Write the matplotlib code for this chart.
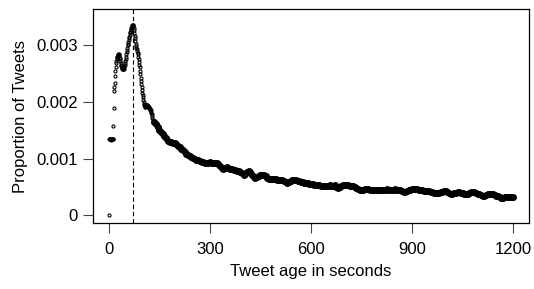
import numpy as np
import matplotlib
matplotlib.use("Agg")
import matplotlib.pyplot as plt

plt.rcParams["font.family"] = ["Liberation Sans", "DejaVu Sans"]

# ---- data (seconds, proportion) ----
# first ~130 s, one value per second
head_age = list(range(0, 131))
head_prop = [
    0.0,
    0.00134, 0.00134, 0.00135, 0.00134, 0.00135, 0.00134, 0.00133, 0.00134, 0.00135, 0.00134,
    0.00135, 0.00134, 0.00158, 0.00189, 0.00220, 0.00227, 0.00233, 0.00245, 0.00255, 0.00262,
    0.00268, 0.00272, 0.00276, 0.00279, 0.00279, 0.00281, 0.00283, 0.00284, 0.00284, 0.00283,
    0.00281, 0.00278, 0.00275, 0.00272, 0.00269, 0.00266, 0.00264, 0.00262, 0.00260, 0.00259,
    0.00258, 0.00258, 0.00258, 0.00259, 0.00261, 0.00263, 0.00266, 0.00269, 0.00272, 0.00276,
    0.00280, 0.00284, 0.00288, 0.00292, 0.00296, 0.00300, 0.00303, 0.00306, 0.00309, 0.00312,
    0.00315, 0.00318, 0.00321, 0.00324, 0.00327, 0.00329, 0.00331, 0.00333, 0.00334, 0.00335,
    0.00336, 0.00336, 0.00334, 0.00331, 0.00327, 0.00322, 0.00317, 0.00312, 0.00307, 0.00303,
    0.00299, 0.00296, 0.00293, 0.00290, 0.00287, 0.00284, 0.00280, 0.00276, 0.00271, 0.00266,
    0.00261, 0.00255, 0.00249, 0.00243, 0.00237, 0.00231, 0.00226, 0.00221, 0.00216, 0.00212,
    0.00208, 0.00204, 0.00200, 0.00197, 0.00195, 0.00193, 0.00192, 0.00192, 0.00193, 0.00194,
    0.00195, 0.00195, 0.00195, 0.00194, 0.00193, 0.00193, 0.00192, 0.00191, 0.00190, 0.00189,
    0.00188, 0.00187, 0.00186, 0.00185, 0.00183, 0.00181, 0.00178, 0.00175, 0.00172, 0.00169,
]

# rest of the curve, read every 5 s
tail_age = list(range(135, 1201, 5))
tail_prop = [
    0.00165, 0.00161, 0.00156, 0.00151, 0.00147, 0.00144, 0.00140, 0.00136, 0.00132, 0.00130,
    0.00129, 0.00128, 0.00127, 0.00126, 0.00123, 0.00120, 0.00117, 0.00115, 0.00112, 0.00109,
    0.00107, 0.00105, 0.00103, 0.00101, 0.00100, 0.00098, 0.00097, 0.00096, 0.00095, 0.00094,
    0.00093, 0.00092, 0.00093, 0.00094, 0.00093, 0.00092, 0.00093, 0.00092, 0.00090, 0.00087,
    0.00084, 0.00082, 0.00083, 0.00085, 0.00084, 0.00082, 0.00081, 0.00080, 0.00080, 0.00079,
    0.00078, 0.00076, 0.00074, 0.00072, 0.00073, 0.00076, 0.00078, 0.00076, 0.00072, 0.00067,
    0.00066, 0.00067, 0.00069, 0.00071, 0.00072, 0.00071, 0.00069, 0.00066, 0.00065, 0.00064,
    0.00064, 0.00064, 0.00064, 0.00063, 0.00063, 0.00063, 0.00062, 0.00060, 0.00058, 0.00057,
    0.00058, 0.00060, 0.00062, 0.00062, 0.00062, 0.00061, 0.00060, 0.00059, 0.00058, 0.00057,
    0.00057, 0.00057, 0.00056, 0.00055, 0.00055, 0.00054, 0.00054, 0.00053, 0.00053, 0.00052,
    0.00052, 0.00051, 0.00051, 0.00052, 0.00053, 0.00052, 0.00051, 0.00053, 0.00050, 0.00048,
    0.00050, 0.00052, 0.00053, 0.00053, 0.00053, 0.00053, 0.00052, 0.00051, 0.00051, 0.00050,
    0.00048, 0.00046, 0.00044, 0.00044, 0.00045, 0.00046, 0.00047, 0.00046, 0.00045, 0.00044,
    0.00044, 0.00044, 0.00045, 0.00045, 0.00045, 0.00044, 0.00045, 0.00045, 0.00046, 0.00045,
    0.00044, 0.00045, 0.00045, 0.00046, 0.00045, 0.00044, 0.00044, 0.00043, 0.00042, 0.00042,
    0.00043, 0.00044, 0.00045, 0.00046, 0.00047, 0.00047, 0.00046, 0.00045, 0.00045, 0.00044,
    0.00043, 0.00043, 0.00043, 0.00043, 0.00042, 0.00041, 0.00040, 0.00039, 0.00039, 0.00040,
    0.00041, 0.00042, 0.00043, 0.00043, 0.00041, 0.00039, 0.00038, 0.00038, 0.00039, 0.00040,
    0.00041, 0.00041, 0.00040, 0.00039, 0.00037, 0.00037, 0.00038, 0.00040, 0.00041, 0.00041,
    0.00041, 0.00040, 0.00038, 0.00037, 0.00036, 0.00035, 0.00035, 0.00036, 0.00037, 0.00038,
    0.00038, 0.00037, 0.00036, 0.00035, 0.00034, 0.00032, 0.00031, 0.00031, 0.00032, 0.00033,
    0.00033, 0.00033, 0.00032, 0.00032,
]

peak_age = 73
x_ticks = [0, 300, 600, 900, 1200]
y_ticks = [0, 0.001, 0.002, 0.003]
y_tick_labels = ["0", "0.001", "0.002", "0.003"]

# ---- figure ----
fig = plt.figure(figsize=(5.34, 2.89), dpi=100)
ax = fig.add_axes([0.1736, 0.2273, 0.8176, 0.7416])

# per-second part: single open circles
ax.plot(head_age, head_prop, linestyle="none", marker="o", mfc="none",
        mec="black", ms=2.2, mew=0.8)
# sparser tail: heavier circles so the chain reads as the dense band
ax.plot(tail_age, tail_prop, linestyle="none", marker="o", mfc="none",
        mec="black", ms=3.4, mew=1.6)

ax.axvline(peak_age, color="black", linestyle=(0, (4, 2.5)), linewidth=0.8)

ax.set_xlim(-48, 1248)
ax.set_ylim(-0.00014, 0.00364)
ax.set_xticks(x_ticks)
ax.set_xticklabels([str(t) for t in x_ticks])
ax.set_yticks(y_ticks)
ax.set_yticklabels(y_tick_labels)

for s in ax.spines.values():
    s.set_linewidth(0.9)
ax.tick_params(direction="out", length=7.5, width=0.8, labelsize=12, color="#444444")
ax.tick_params(axis="x", pad=6)
ax.tick_params(axis="y", pad=3)

ax.set_xlabel("Tweet age in seconds", fontsize=12, labelpad=5)
ax.set_ylabel("Proportion of Tweets", fontsize=12, labelpad=6)

fig.savefig("out.png", dpi=100)
